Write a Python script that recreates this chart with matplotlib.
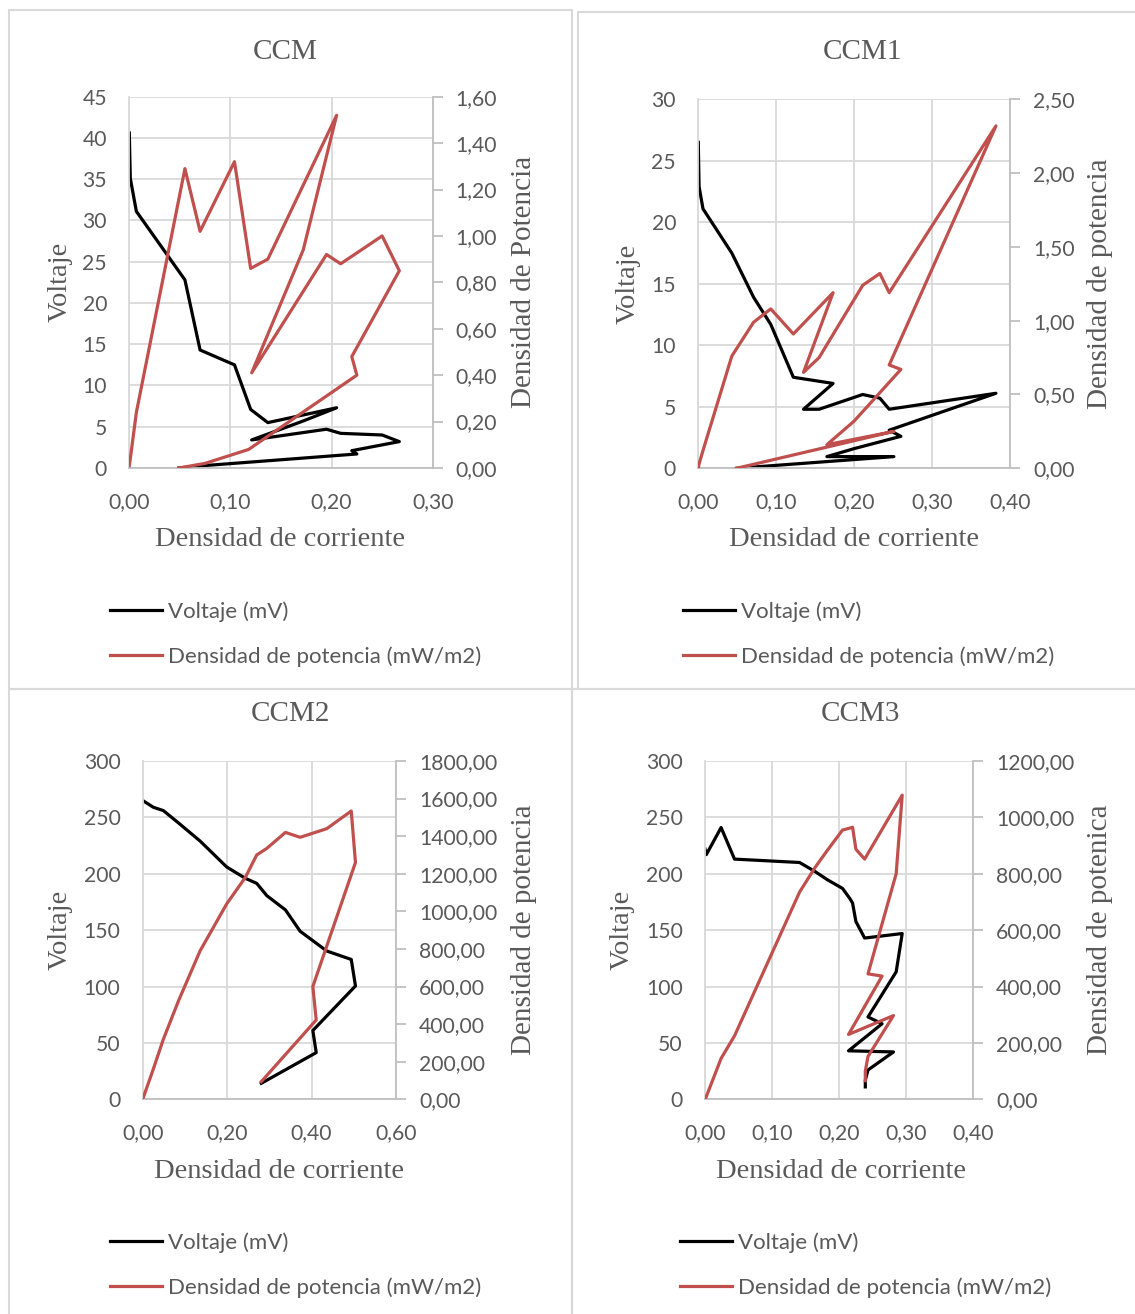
import matplotlib
matplotlib.use("Agg")
import matplotlib.pyplot as plt
from matplotlib.ticker import FuncFormatter, MultipleLocator
from matplotlib.patches import Rectangle

# ---- data (x = densidad de corriente) ----
ccm_i = [0.000, 0.001, 0.007, 0.055, 0.070, 0.104, 0.120, 0.137, 0.205, 0.172,
         0.121, 0.195, 0.209, 0.250, 0.267, 0.220, 0.225, 0.118, 0.075, 0.049]
ccm_v = [40.6, 35.1, 31.1, 22.8, 14.3, 12.5, 7.1, 5.5, 7.3, 5.7,
         3.4, 4.7, 4.2, 4.0, 3.2, 2.1, 1.7, 0.7, 0.3, 0.0]
ccm_p = [0.01, 0.04, 0.24, 1.29, 1.02, 1.32, 0.86, 0.90, 1.52, 0.94,
         0.41, 0.92, 0.88, 1.00, 0.85, 0.48, 0.40, 0.08, 0.02, 0.00]

ccm1_i = [0.000, 0.001, 0.006, 0.043, 0.071, 0.093, 0.122, 0.173, 0.135, 0.155,
          0.211, 0.233, 0.245, 0.382, 0.245, 0.260, 0.200, 0.165, 0.251, 0.049]
ccm1_v = [26.5, 22.9, 21.1, 17.5, 13.9, 11.7, 7.4, 6.9, 4.8, 4.8,
          6.0, 5.7, 4.8, 6.1, 3.1, 2.6, 1.6, 0.95, 0.95, 0.0]
ccm1_p = [0.00, 0.03, 0.12, 0.76, 0.99, 1.08, 0.91, 1.19, 0.65, 0.75,
          1.24, 1.32, 1.19, 2.32, 0.70, 0.67, 0.32, 0.16, 0.25, 0.00]

ccm2_i = [0.000, 0.025, 0.049, 0.085, 0.136, 0.199, 0.243, 0.270, 0.294, 0.338,
          0.373, 0.436, 0.494, 0.504, 0.403, 0.411, 0.281]
ccm2_v = [265, 259, 256, 245, 229, 206, 196, 191.5, 180.6, 168,
          149, 131.5, 124, 100.5, 61, 41.4, 14.2]
ccm2_p = [0, 160, 320, 525, 790, 1040, 1180, 1300, 1335, 1420,
          1394, 1440, 1534, 1260, 600, 422, 94]

ccm3_i = [0.000, 0.002, 0.024, 0.044, 0.141, 0.164, 0.183, 0.205, 0.216, 0.220,
          0.225, 0.238, 0.294, 0.285, 0.243, 0.264, 0.214, 0.281, 0.243, 0.239, 0.239]
ccm3_v = [222, 217, 241, 213, 210, 202, 194.5, 187, 178, 174,
          157.6, 143, 147, 113, 73, 67, 43, 42, 26, 17, 11]
ccm3_p = [0, 10, 145, 225, 735, 822, 885, 955, 962, 965,
          887, 852, 1079, 800, 445, 437, 230, 297, 152, 100, 66]

W, H = 1135, 1314
GRAY = '#595959'
RED = '#c0504d'
GRID = '#d9d9d9'
AXIS = '#bfbfbf'
SERIF = 'Liberation Serif'
SANS = 'Lato'

fig = plt.figure(figsize=(W / 100, H / 100), dpi=100)


def fx(px):
    return px / W


def fy(py):
    return 1 - py / H


def comma(d):
    return FuncFormatter(lambda v, pos: f"{v:.{d}f}".replace('.', ','))


# panel frames
for l, t, r, b in [(9, 10, 572, 689), (578, 12, 1140, 689),
                   (9, 689, 572, 1320), (572, 689, 1140, 1320)]:
    fig.add_artist(Rectangle((fx(l), fy(b)), fx(r) - fx(l), fy(t) - fy(b),
                             transform=fig.transFigure, fill=False,
                             edgecolor=GRID, lw=1.5))


def panel(box, title, i, v, p, xmax, xstep, ymax, ystep, pmax, pstep, plabel,
          tpos, xlpos, vlx, plx, leg):
    l, t, r, b = box
    ax = fig.add_axes([fx(l), fy(b), fx(r) - fx(l), fy(t) - fy(b)])
    ax2 = ax.twinx()
    lv, = ax.plot(i, v, color='black', lw=2.3, solid_joinstyle='round')
    lp, = ax2.plot(i, p, color=RED, lw=2.3, solid_joinstyle='round')

    ax.set_xlim(0, xmax)
    ax.set_ylim(0, ymax)
    ax2.set_ylim(0, pmax)
    ax.xaxis.set_major_locator(MultipleLocator(xstep))
    ax.yaxis.set_major_locator(MultipleLocator(ystep))
    ax2.yaxis.set_major_locator(MultipleLocator(pstep))
    ax.xaxis.set_major_formatter(comma(2))
    ax2.yaxis.set_major_formatter(comma(2))

    ax.grid(True, color=GRID, lw=1.3)
    ax.set_axisbelow(True)
    for s in ['top', 'right']:
        ax.spines[s].set_visible(False)
    for s in ['top', 'left', 'bottom']:
        ax2.spines[s].set_visible(False)
    ax.spines['left'].set_color(GRID)
    ax.spines['left'].set_linewidth(1.3)
    ax.spines['bottom'].set_color(AXIS)
    ax.spines['bottom'].set_linewidth(1.3)
    ax2.spines['right'].set_color(AXIS)
    ax2.spines['right'].set_linewidth(1.3)

    ax.tick_params(axis='y', length=0, pad=16, labelsize=15.2, labelcolor=GRAY)
    ax.tick_params(axis='x', length=0, pad=17, labelsize=15.2, labelcolor=GRAY)
    ax2.tick_params(axis='y', length=7, width=1.3, color=AXIS, pad=9.5,
                    labelsize=15.2, labelcolor=GRAY)
    for lab in ax.get_xticklabels() + ax.get_yticklabels() + ax2.get_yticklabels():
        lab.set_fontfamily(SANS)

    fig.text(fx(tpos[0]), fy(tpos[1]), title, ha='center', va='center',
             family=SERIF, fontsize=21, color=GRAY)
    fig.text(fx(xlpos[0]), fy(xlpos[1]), 'Densidad de corriente', ha='center',
             va='center', family=SERIF, fontsize=20.5, color=GRAY)
    yc = (t + b) / 2
    fig.text(fx(vlx), fy(yc), 'Voltaje', ha='center', va='center', rotation=90,
             family=SERIF, fontsize=20.5, color=GRAY)
    fig.text(fx(plx), fy(yc), plabel, ha='center', va='center', rotation=90,
             family=SERIF, fontsize=21, color=GRAY)

    ax.legend([lv, lp], ['Voltaje (mV)', 'Densidad de potencia (mW/m2)'],
              loc='center left', bbox_to_anchor=(fx(leg[0]), fy(leg[1])),
              bbox_transform=fig.transFigure, frameon=False,
              prop={'family': SANS, 'size': 16}, labelcolor=GRAY,
              handlelength=2.35, handletextpad=0.28, labelspacing=1.12,
              borderpad=0, borderaxespad=0)
    return ax, ax2


panel((129.3, 96.7, 432.7, 468), 'CCM', ccm_i, ccm_v, ccm_p,
      0.30, 0.10, 45, 5, 1.60, 0.20, 'Densidad de Potencia',
      (285, 52), (280, 539), 60, 524, (110, 634))
panel((698.3, 99.3, 1010, 468.3), 'CCM1', ccm1_i, ccm1_v, ccm1_p,
      0.40, 0.10, 30, 5, 2.50, 0.50, 'Densidad de potencia',
      (862, 52), (854, 539), 628, 1100, (683, 634))
panel((142.7, 761, 396, 1099.3), 'CCM2', ccm2_i, ccm2_v, ccm2_p,
      0.60, 0.20, 300, 50, 1800, 200, 'Densidad de potencia',
      (290, 714), (279, 1171), 60, 524, (110, 1265))
panel((705, 761, 973.3, 1099.3), 'CCM3', ccm3_i, ccm3_v, ccm3_p,
      0.40, 0.10, 300, 50, 1200, 200, 'Densidad de potenica',
      (860, 714), (841, 1171), 622, 1100, (680, 1265))

fig.savefig('out.png', dpi=100)
